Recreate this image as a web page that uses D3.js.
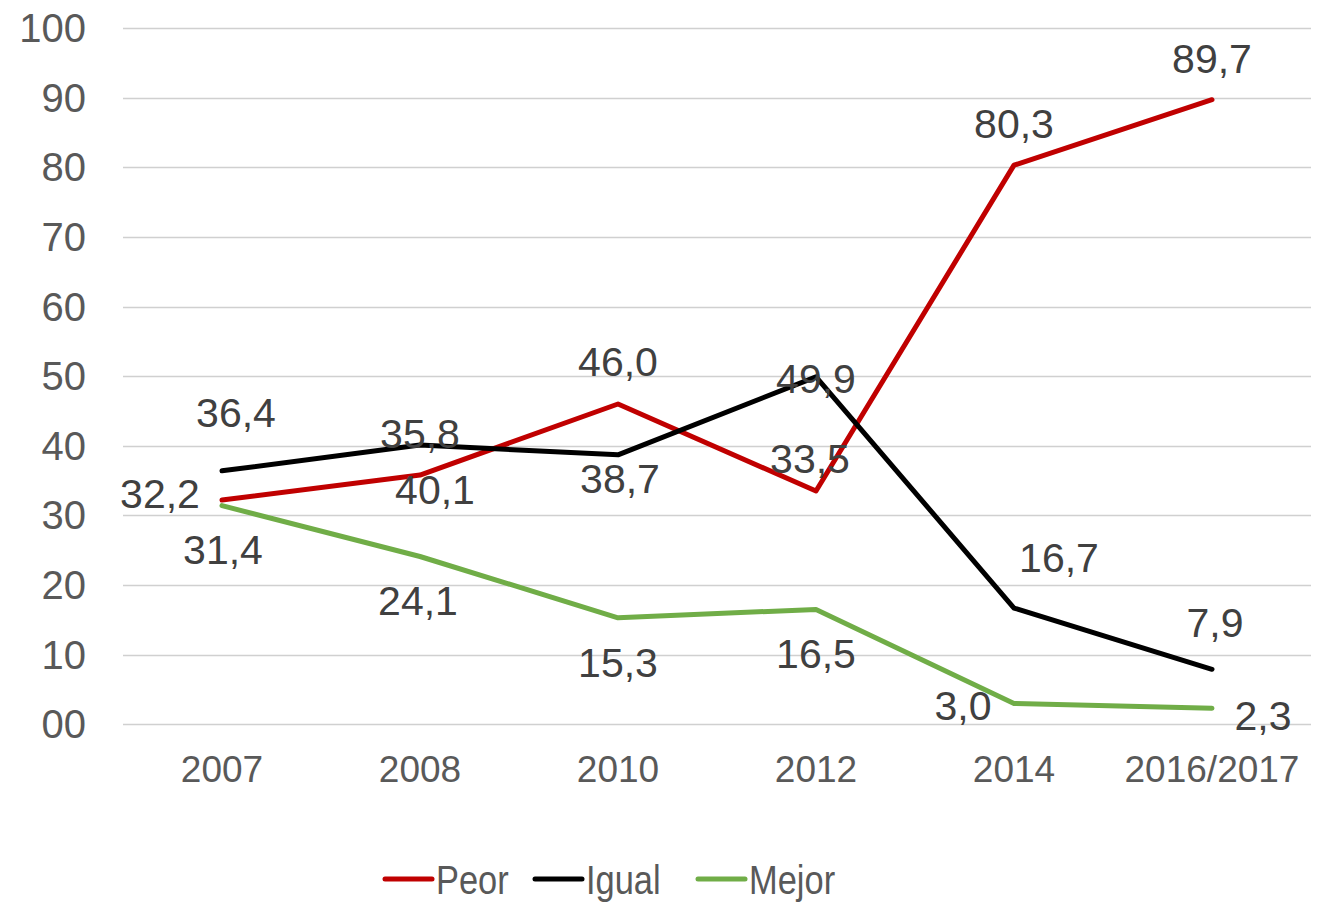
<!DOCTYPE html>
<html>
  <head>
    <meta charset="utf-8">
    <style>
      body { margin: 0; background: #fff; }
      text { font-family: "Liberation Sans", Arial, sans-serif; }
    </style>
    <title>Peor Igual Mejor</title>
  </head>
  <body>

  <div id="viz-wrapper"></div>

  <script src="https://cdnjs.cloudflare.com/ajax/libs/d3/7.8.5/d3.min.js" charset="utf-8"></script>
  <script type="text/javascript">

    // data
    var years = ['2007', '2008', '2010', '2012', '2014', '2016/2017'];
    var peor  = [32.2, 35.8, 46.0, 33.5, 80.3, 89.7];
    var igual = [36.4, 40.1, 38.7, 49.9, 16.7, 7.9];
    var mejor = [31.4, 24.1, 15.3, 16.5, 3.0, 2.3];
    var yTicks = [0, 10, 20, 30, 40, 50, 60, 70, 80, 90, 100];
    var yTickLabels = ['00', '10', '20', '30', '40', '50', '60', '70', '80', '90', '100'];

    // where excel dropped each data label (dx, dy from the point)
    var peorLabelPos  = [[-62, 8], [0, -27], [0, -28], [-6, -18], [0, -27], [0, -27]];
    var igualLabelPos = [[14, -44], [15, 59], [2, 38], [0, 16], [45, -36], [3, -32]];
    var mejorLabelPos = [[1, 58], [-2, 59], [0, 59], [0, 59], [-51, 17], [51, 22]];

    var series = [
      {name: 'Peor',  values: peor,  color: '#c00000', labels: peorLabelPos},
      {name: 'Igual', values: igual, color: '#000000', labels: igualLabelPos},
      {name: 'Mejor', values: mejor, color: '#70ad47', labels: mejorLabelPos}
    ];

    var width = 1327;
    var height = 902;

    var svg = d3.select('#viz-wrapper')
                .append('svg')
                .attr('width', width)
                .attr('height', height);

    var x = d3.scaleBand()
              .domain(years)
              .range([123, 1311]);

    var y = d3.scaleLinear()
              .domain([0, 100])
              .range([724.3, 28]);

    // gridlines
    svg.append('g')
       .selectAll('line')
       .data(yTicks)
       .enter()
       .append('line')
       .attr('x1', 123)
       .attr('x2', 1311)
       .attr('y1', function(d) { return Math.round(y(d)) + 0.5; })
       .attr('y2', function(d) { return Math.round(y(d)) + 0.5; })
       .style('stroke', '#d0d0d0')
       .style('stroke-width', 1.5);

    // y axis labels
    svg.append('g')
       .selectAll('text')
       .data(yTicks)
       .enter()
       .append('text')
       .attr('x', 86)
       .attr('y', function(d) { return y(d) + 14; })
       .attr('text-anchor', 'end')
       .style('font-size', '40px')
       .style('fill', '#595959')
       .text(function(d, i) { return yTickLabels[i]; });

    // x axis labels
    svg.append('g')
       .selectAll('text')
       .data(years)
       .enter()
       .append('text')
       .attr('x', function(d) { return x(d) + x.bandwidth() / 2; })
       .attr('y', 782)
       .attr('text-anchor', 'middle')
       .style('font-size', '37px')
       .style('fill', '#595959')
       .text(function(d) { return d; });

    var line = d3.line()
                 .x(function(d, i) { return x(years[i]) + x.bandwidth() / 2; })
                 .y(function(d) { return y(d); });

    svg.append('g')
       .selectAll('path')
       .data(series)
       .enter()
       .append('path')
       .attr('d', function(s) { return line(s.values); })
       .style('fill', 'none')
       .style('stroke', function(s) { return s.color; })
       .style('stroke-width', 5)
       .style('stroke-linecap', 'round')
       .style('stroke-linejoin', 'round');

    // data labels
    series.forEach(function(s) {
      svg.append('g')
         .selectAll('text')
         .data(s.values)
         .enter()
         .append('text')
         .attr('x', function(d, i) { return x(years[i]) + x.bandwidth() / 2 + s.labels[i][0]; })
         .attr('y', function(d, i) { return y(d) + s.labels[i][1]; })
         .attr('text-anchor', 'middle')
         .style('font-size', '41px')
         .style('fill', '#404040')
         .text(function(d) { return d.toFixed(1).replace('.', ','); });
    });

    // legend (narrow font in the original, squeeze it)
    var legendX = [385, 535, 698];
    var legend = svg.append('g')
                    .selectAll('g')
                    .data(series)
                    .enter()
                    .append('g')
                    .attr('transform', function(d, i) { return 'translate(' + legendX[i] + ',879)'; });

    legend.append('line')
          .attr('x1', 0)
          .attr('x2', 47)
          .style('stroke', function(d) { return d.color; })
          .style('stroke-width', 5)
          .style('stroke-linecap', 'round');

    legend.append('text')
          .attr('transform', 'translate(51,15) scale(0.84,1)')
          .style('font-size', '41px')
          .style('fill', '#595959')
          .text(function(d) { return d.name; });

  </script>
  </body>
</html>
